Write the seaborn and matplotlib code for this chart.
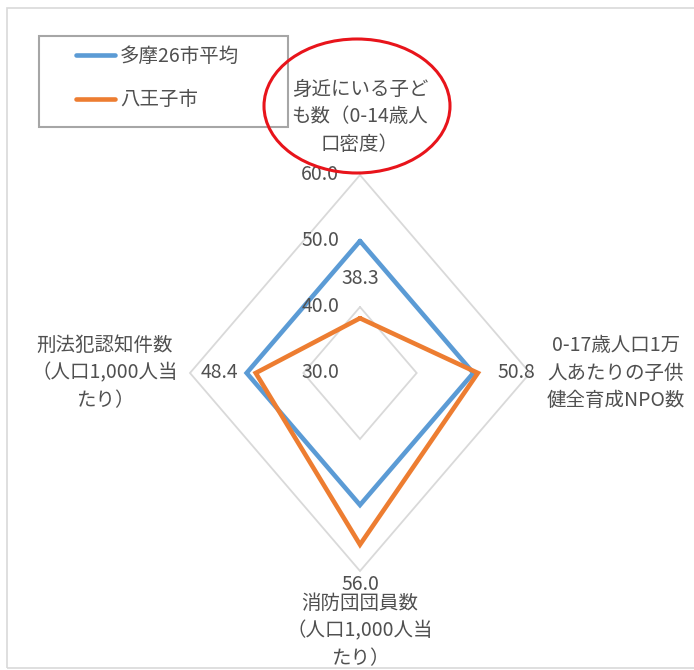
import numpy as np
import pandas as pd
import matplotlib
matplotlib.use("Agg")
import matplotlib.pyplot as plt
from matplotlib.lines import Line2D
from matplotlib.patches import Ellipse, Rectangle
import seaborn as sns

# ---- data ----
category_labels = [
    "身近にいる子ど\nも数（0-14歳人\n口密度）",
    "0-17歳人口1万\n人あたりの子供\n健全育成NPO数",
    "消防団団員数\n（人口1,000人当\nたり）",
    "刑法犯認知件数\n（人口1,000人当\nたり）",
]
series_names = ["多摩26市平均", "八王子市"]
tama_avg = [50.0, 50.0, 50.0, 50.0]
hachioji = [38.3, 50.8, 56.0, 48.4]
radial_ticks = [30.0, 40.0, 50.0, 60.0]

BLUE = "#5B9BD5"
ORANGE = "#ED7D31"
GRID = "#D9D9D9"
TEXT = "#505050"

sns.set_theme(style="white")
plt.rcParams["font.family"] = ["Noto Sans CJK JP", "DejaVu Sans"]
FS = 14

W, H = 694, 670
fig = plt.figure(figsize=(W / 100, H / 100), dpi=100)

# polar axes: center (360,373) px, rx=170, ry=198
cx, cy, rx, ry = 360, 373, 170, 198
ax = fig.add_axes([(cx - rx) / W, (H - cy - ry) / H, 2 * rx / W, 2 * ry / H],
                  projection="polar")
ax.set_aspect("auto")
ax.set_theta_zero_location("N")
ax.set_theta_direction(-1)
ax.set_ylim(radial_ticks[0], radial_ticks[-1])
ax.grid(False)
ax.spines["polar"].set_visible(False)
ax.set_xticks([])
ax.set_yticks([])
ax.set_facecolor("none")

n = len(category_labels)
angles = np.linspace(0, 2 * np.pi, n, endpoint=False)
closed = np.r_[angles, angles[0]]

# diamond gridlines
for r in radial_ticks[1:]:
    ax.plot(closed, [r] * (n + 1), color=GRID, lw=1.3, zorder=1, clip_on=False)

# data
rows = []
for name, vals in zip(series_names, [tama_avg, hachioji]):
    vv = list(vals) + [vals[0]]
    for i, (t, v) in enumerate(zip(closed, vv)):
        rows.append({"theta": t, "value": v, "series": name, "order": i})
df = pd.DataFrame(rows)
sns.lineplot(data=df, x="theta", y="value", hue="series", units="series",
             estimator=None, sort=False,
             palette={series_names[0]: BLUE, series_names[1]: ORANGE},
             linewidth=3.3, ax=ax, legend=False, zorder=3)
for l in ax.lines:
    l.set_clip_on(False)
    l.set_solid_joinstyle("miter")
ax.set_xlabel("")
ax.set_ylabel("")

# radial tick labels
for r in radial_ticks:
    ax.annotate(f"{r:.1f}", xy=(0, r), xytext=(-21, 0), textcoords="offset pixels",
                ha="right", va="center", fontsize=FS, color=TEXT, annotation_clip=False)

# data labels for Hachioji
offsets = [(0, 40), (39, 0), (0, -40), (-36, 0)]
for t, v, off in zip(angles, hachioji, offsets):
    ax.annotate(f"{v:.1f}", xy=(t, v), xytext=off, textcoords="offset pixels",
                ha="center", va="center", fontsize=FS, color=TEXT, annotation_clip=False,
                zorder=5)

# category labels
cat_offsets = [(0, 58), (86, 0), (0, -60), (-85, 0)]
for t, lab, off in zip(angles, category_labels, cat_offsets):
    ax.annotate(lab, xy=(t, radial_ticks[-1]), xytext=off, textcoords="offset pixels",
                ha="center", va="center", multialignment="center", fontsize=FS,
                color=TEXT, linespacing=1.4, annotation_clip=False)

# outer chart frame
fig.add_artist(Rectangle((7 / W, 1 - 668 / H), (720 - 7) / W, (668 - 8) / H,
                         transform=fig.transFigure, fill=False, edgecolor=GRID, lw=1.2))

# legend frame and legend
fig.add_artist(Rectangle((39 / W, 1 - 127 / H), 249 / W, 91 / H,
                         transform=fig.transFigure, fill=False, edgecolor="#A6A6A6", lw=1.5))
handles = [Line2D([], [], color=BLUE, lw=3.3), Line2D([], [], color=ORANGE, lw=3.3)]
leg = fig.legend(handles, series_names, loc="upper left",
                 bbox_to_anchor=(76 / W, 1 - 46 / H), frameon=False, borderpad=0,
                 borderaxespad=0, handlelength=2.0, handletextpad=0.25,
                 labelspacing=1.15, fontsize=FS)
for t in leg.get_texts():
    t.set_color(TEXT)

# red annotation ellipse
fig.add_artist(Ellipse((357 / W, 1 - 106 / H), 186 / W, 134 / H,
                       transform=fig.transFigure, fill=False, edgecolor="#E8141B", lw=2.2))

fig.savefig("out.png", dpi=100)
